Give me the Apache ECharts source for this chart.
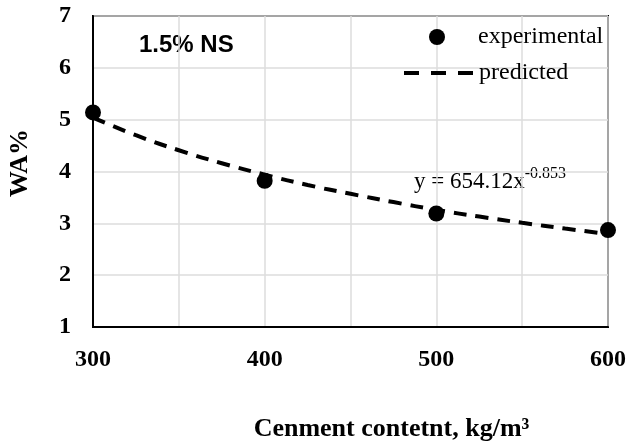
<!DOCTYPE html>
<html><head><meta charset="utf-8">
<script src="https://cdn.jsdelivr.net/npm/echarts@6/dist/echarts.min.js"></script>
<style>html,body{margin:0;padding:0;background:#fff}#c{width:631px;height:442px}</style>
</head><body><div id="c"></div>
<script>
const cementX = [300, 400, 500, 600];
const experimentalWA = [5.14, 3.82, 3.19, 2.87];
const predictedX = [300, 325, 350, 375, 400, 425, 450, 475, 500, 525, 550, 575, 600];
const predictedWA = [5.04, 4.70, 4.41, 4.16, 3.94, 3.74, 3.57, 3.41, 3.26, 3.13, 3.01, 2.90, 2.79];
const xTickLabels = [300, 400, 500, 600];
const yTickLabels = [1, 2, 3, 4, 5, 6, 7];

const serif = '"Liberation Serif","Times New Roman",serif';
const chart = echarts.init(document.getElementById('c'), null, {renderer: 'canvas'});
chart.setOption({
  animation: false,
  backgroundColor: '#fff',
  grid: {left: 93, right: 23, top: 16, bottom: 115, containLabel: false, outerBoundsMode: 'none',
         show: true, borderColor: '#000', borderWidth: 2, backgroundColor: 'transparent'},
  xAxis: {
    type: 'value', min: 300, max: 600, interval: 50,
    name: 'Cenment contetnt, kg/m³', nameLocation: 'middle', nameGap: 89,
    nameTextStyle: {fontFamily: serif, fontWeight: 'bold', fontSize: 26, color: '#000', padding: [0, 0, 0, 82]},
    axisLine: {show: true, lineStyle: {color: '#000', width: 2}},
    axisTick: {show: false},
    axisLabel: {margin: 21, fontFamily: serif, fontWeight: 'bold', fontSize: 24, color: '#000',
      formatter: v => xTickLabels.includes(v) ? String(v) : ''},
    splitLine: {show: true, lineStyle: {color: '#dcdcdc', width: 1.5}}
  },
  yAxis: {
    type: 'value', min: 1, max: 7, interval: 1,
    name: 'WA%', nameLocation: 'middle', nameGap: 60, nameRotate: 90,
    nameTextStyle: {fontFamily: serif, fontWeight: 'bold', fontSize: 26, color: '#000', padding: [0, 0, 0, 17]},
    axisLine: {show: true, lineStyle: {color: '#000', width: 2}},
    axisTick: {show: false},
    axisLabel: {margin: 22, fontFamily: serif, fontWeight: 'bold', fontSize: 24, color: '#000',
      formatter: v => yTickLabels.includes(v) ? String(v) : ''},
    splitLine: {show: true, lineStyle: {color: '#dcdcdc', width: 1.5}}
  },
  legend: [
    {data: ['experimental'], left: 424, top: 20, icon: 'circle', itemWidth: 16, itemHeight: 16,
     itemStyle: {opacity: 1},
     textStyle: {fontFamily: serif, fontSize: 24, color: '#000', padding: [0, 0, 0, 28]}},
    {data: ['predicted'], left: 397, top: 56, itemWidth: 70, itemHeight: 4,
     lineStyle: {type: [15, 12], width: 4, color: '#000'},
     textStyle: {fontFamily: serif, fontSize: 24, color: '#000'}}
  ],
  graphic: [
    {type: 'text', left: 139, top: 33, style: {text: '1.5% NS', font: 'bold 24px "Liberation Sans", Arial, sans-serif', fill: '#000'}},
    {type: 'text', left: 414, top: 166, style: {
      text: '{b|y = 654.12x}{s|-0.853}',
      rich: {b: {fontFamily: serif, fontSize: 23, fill: '#000', color: '#000', verticalAlign: 'bottom'},
             s: {fontFamily: serif, fontSize: 16, fill: '#000', color: '#000', verticalAlign: 'top', padding: [0, 0, 11, 0]}}
    }}
  ],
  series: [
    {name: 'predicted', type: 'line', data: predictedX.map((x, i) => [x, predictedWA[i]]),
     smooth: true, symbol: 'none', lineStyle: {type: [13, 9], width: 4, color: '#000'}, itemStyle: {color: '#000'}, z: 2},
    {name: 'experimental', type: 'scatter', data: cementX.map((x, i) => [x, experimentalWA[i]]),
     symbolSize: 16, itemStyle: {color: '#000', opacity: 1}, z: 3}
  ]
});
</script></body></html>
